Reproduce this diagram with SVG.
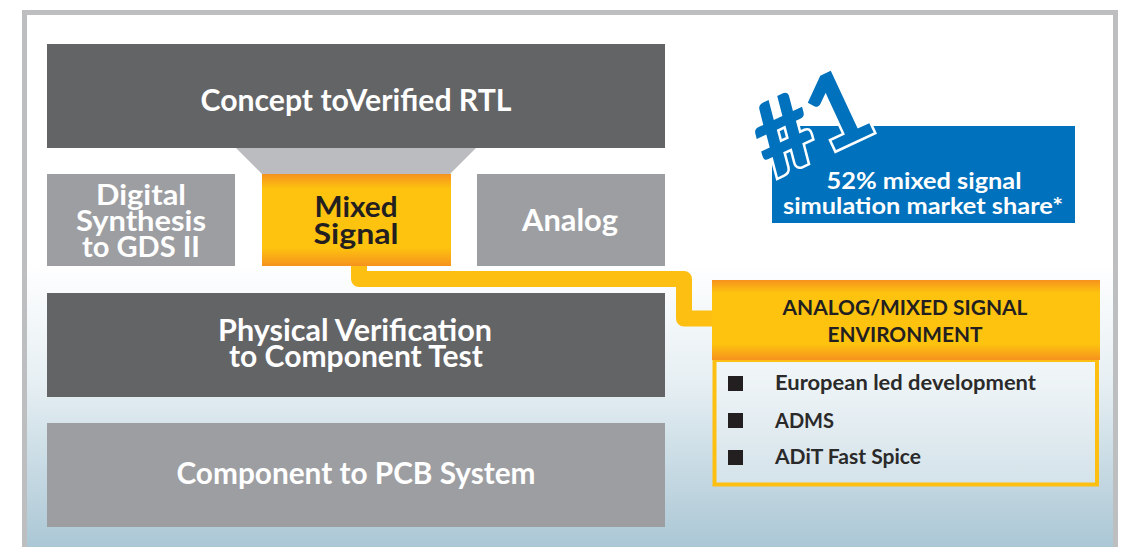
<svg xmlns="http://www.w3.org/2000/svg" width="1125" height="547" viewBox="0 0 1125 547">
<defs>
<linearGradient id="bg" x1="0" y1="0" x2="0" y2="547" gradientUnits="userSpaceOnUse">
<stop offset="0" stop-color="#ffffff"/>
<stop offset="0.48" stop-color="#ffffff"/>
<stop offset="0.7" stop-color="#e6eff3"/>
<stop offset="1" stop-color="#abc7d5"/>
</linearGradient>
<linearGradient id="gold" x1="0" y1="0" x2="0" y2="1">
<stop offset="0" stop-color="#f6921e"/>
<stop offset="0.16" stop-color="#fdc30f"/>
<stop offset="0.8" stop-color="#fdc30f"/>
<stop offset="1" stop-color="#f6921e"/>
</linearGradient>
<style>
.dark{fill:#636466}
.mid{fill:#9d9ea2}
.t{font-family:Lato,"Liberation Sans",sans-serif;font-weight:bold;text-anchor:middle}
.w{fill:#ffffff}
.k{fill:#231f20}
.b{font-family:Lato,"Liberation Sans",sans-serif;font-weight:bold;font-size:21px;fill:#2b2a2b}
.sq{fill:#231f20}
</style>
</defs>
<rect x="0" y="0" width="1125" height="547" fill="#ffffff"/>
<rect x="24.5" y="12.5" width="1091" height="560" fill="url(#bg)" stroke="#bcbec0" stroke-width="5"/>

<g id="connectors">
<path d="M359 262 V279 H684 V318.5 H714" fill="none" stroke="#fcbf12" stroke-width="16" stroke-linejoin="round"/>
</g>

<g id="concept">
<rect class="dark" x="47" y="44" width="618" height="104"/>
<text class="t w" x="356" y="111" font-size="31" textLength="311" lengthAdjust="spacingAndGlyphs">Concept toVerified RTL</text>
</g>
<g id="funnel">
<polygon points="236,148 476,148 450,174 262,174" fill="#bbbcbf"/>
</g>
<g id="digital">
<rect class="mid" x="47" y="174" width="188" height="92"/>
<text class="t w" font-size="29"><tspan x="141" y="205" textLength="90" lengthAdjust="spacingAndGlyphs">Digital</tspan><tspan x="141" y="231" textLength="130" lengthAdjust="spacingAndGlyphs">Synthesis</tspan><tspan x="141" y="257" textLength="118" lengthAdjust="spacingAndGlyphs">to GDS II</tspan></text>
</g>
<g id="mixed">
<rect x="262" y="174" width="189" height="92" fill="url(#gold)"/>
<text class="t k" font-size="29"><tspan x="356" y="217" textLength="83" lengthAdjust="spacingAndGlyphs">Mixed</tspan><tspan x="356" y="244" textLength="85" lengthAdjust="spacingAndGlyphs">Signal</tspan></text>
</g>
<g id="analog">
<rect class="mid" x="477" y="174" width="188" height="92"/>
<text class="t w" x="570" y="231" font-size="30" textLength="96" lengthAdjust="spacingAndGlyphs">Analog</text>
</g>
<g id="physical">
<rect class="dark" x="47" y="293" width="618" height="104"/>
<text class="t w" font-size="30"><tspan x="355" y="341" textLength="274" lengthAdjust="spacingAndGlyphs">Physical Verification</tspan><tspan x="356" y="367" textLength="254" lengthAdjust="spacingAndGlyphs">to Component Test</tspan></text>
</g>
<g id="pcb">
<rect class="mid" x="47" y="423" width="618" height="104"/>
<text class="t w" x="356" y="484" font-size="30" textLength="359" lengthAdjust="spacingAndGlyphs">Component to PCB System</text>
</g>

<g id="badge">
<rect x="772" y="126" width="303" height="97" fill="#0071bc"/>
<text transform="translate(772,180) rotate(-25)" x="0" y="0" font-family="Lato,'Liberation Sans',sans-serif" font-weight="900" font-size="102" fill="#0071bc" stroke="#ffffff" stroke-width="5" paint-order="stroke" stroke-linejoin="miter">#1</text>
<text class="t w" font-size="22"><tspan x="924" y="189" textLength="195" lengthAdjust="spacingAndGlyphs">52% mixed signal</tspan><tspan x="923" y="214" textLength="280" lengthAdjust="spacingAndGlyphs">simulation market share*</tspan></text>
</g>

<g id="env">
<rect x="714.5" y="360" width="382.5" height="124.5" fill="#ffffff" fill-opacity="0.3" stroke="#fcbf12" stroke-width="4"/>
<rect x="712" y="280" width="388" height="80" fill="url(#gold)"/>
<text class="t k" font-size="21"><tspan x="905" y="315" textLength="245" lengthAdjust="spacingAndGlyphs">ANALOG/MIXED SIGNAL</tspan><tspan x="905" y="342" textLength="155" lengthAdjust="spacingAndGlyphs">ENVIRONMENT</tspan></text>
<rect class="sq" x="728" y="376" width="15" height="15"/>
<rect class="sq" x="728" y="413" width="15" height="15"/>
<rect class="sq" x="728" y="450" width="15" height="15"/>
<text class="b" x="775" y="390" textLength="261" lengthAdjust="spacingAndGlyphs">European led development</text>
<text class="b" x="775" y="428" textLength="59" lengthAdjust="spacingAndGlyphs">ADMS</text>
<text class="b" x="775" y="464" textLength="146" lengthAdjust="spacingAndGlyphs">ADiT Fast Spice</text>
</g>
</svg>
